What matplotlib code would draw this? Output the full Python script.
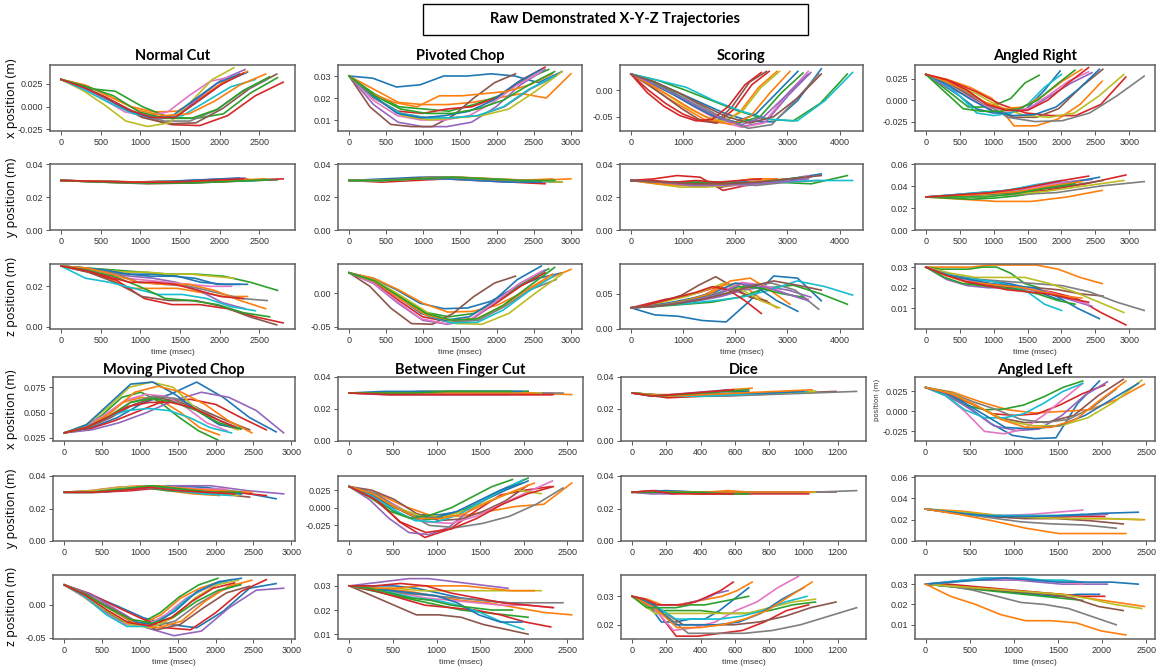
import numpy as np
import matplotlib
matplotlib.use('Agg')
import matplotlib.pyplot as plt
from matplotlib.patches import Rectangle

plt.rcParams['axes.unicode_minus'] = False

# ---------------- data ----------------
# each trajectory: end time (msec) + positions sampled evenly from 0 to that end time

normal_cut_T = [2350, 2350, 2730, 2800, 2320, 2720, 2150, 2600, 2180, 2450, 2250, 2580, 2630, 2300]
normal_cut_x = [
    [0.030, 0.020, 0.008, -0.006, -0.012, -0.010, 0.008, 0.027, 0.038],
    [0.030, 0.024, 0.012, 0.000, -0.006, -0.005, 0.010, 0.028, 0.039],
    [0.030, 0.020, 0.017, 0.000, -0.012, -0.013, -0.008, 0.015, 0.032],
    [0.030, 0.018, 0.004, -0.012, -0.020, -0.021, -0.010, 0.012, 0.027],
    [0.030, 0.021, 0.008, -0.006, -0.014, -0.012, 0.010, 0.030, 0.041],
    [0.030, 0.019, 0.004, -0.012, -0.019, -0.018, -0.002, 0.020, 0.036],
    [0.030, 0.020, 0.008, -0.006, -0.010, -0.006, 0.012, 0.028, 0.033],
    [0.030, 0.020, 0.006, -0.008, -0.016, -0.016, -0.004, 0.016, 0.030],
    [0.030, 0.018, 0.002, -0.016, -0.022, -0.018, 0.005, 0.030, 0.043],
    [0.030, 0.018, 0.004, -0.008, -0.012, -0.010, 0.006, 0.022, 0.030],
    [0.030, 0.022, 0.010, -0.004, -0.012, -0.010, 0.008, 0.026, 0.036],
    [0.030, 0.023, 0.010, -0.004, -0.010, -0.008, 0.006, 0.024, 0.036],
    [0.030, 0.022, 0.012, -0.006, -0.013, -0.013, -0.003, 0.018, 0.033],
    [0.030, 0.021, 0.010, -0.004, -0.012, -0.012, 0.006, 0.024, 0.037],
]
normal_cut_y = [
    [0.030, 0.0295, 0.029, 0.0295, 0.030, 0.031],
    [0.030, 0.0295, 0.029, 0.029, 0.030, 0.031],
    [0.030, 0.029, 0.0285, 0.0285, 0.0295, 0.0305],
    [0.030, 0.0295, 0.029, 0.029, 0.030, 0.031],
    [0.030, 0.0295, 0.029, 0.0295, 0.0305, 0.0315],
    [0.030, 0.029, 0.028, 0.0285, 0.0295, 0.0305],
    [0.030, 0.0295, 0.029, 0.0295, 0.030, 0.031],
    [0.030, 0.029, 0.0285, 0.029, 0.030, 0.0305],
    [0.030, 0.0295, 0.029, 0.0295, 0.030, 0.031],
    [0.030, 0.0295, 0.029, 0.029, 0.0295, 0.030],
    [0.030, 0.0295, 0.029, 0.0295, 0.0305, 0.0315],
    [0.030, 0.0295, 0.029, 0.029, 0.030, 0.031],
    [0.030, 0.029, 0.0285, 0.0285, 0.0295, 0.0305],
    [0.030, 0.0295, 0.029, 0.029, 0.030, 0.031],
]
normal_cut_z = [
    [0.030, 0.029, 0.027, 0.026, 0.026, 0.025, 0.022, 0.021, 0.021],
    [0.030, 0.028, 0.024, 0.019, 0.019, 0.019, 0.017, 0.015, 0.015],
    [0.030, 0.029, 0.028, 0.027, 0.026, 0.026, 0.025, 0.022, 0.018],
    [0.030, 0.027, 0.023, 0.014, 0.011, 0.011, 0.009, 0.005, 0.002],
    [0.030, 0.029, 0.027, 0.025, 0.024, 0.022, 0.018, 0.012, 0.009],
    [0.030, 0.027, 0.022, 0.015, 0.013, 0.013, 0.010, 0.005, 0.001],
    [0.030, 0.029, 0.027, 0.024, 0.023, 0.022, 0.021, 0.020, 0.020],
    [0.030, 0.029, 0.027, 0.022, 0.021, 0.020, 0.017, 0.014, 0.013],
    [0.030, 0.029, 0.028, 0.027, 0.027, 0.026, 0.026, 0.025, 0.024],
    [0.030, 0.024, 0.022, 0.019, 0.016, 0.016, 0.014, 0.010, 0.008],
    [0.030, 0.029, 0.028, 0.026, 0.025, 0.025, 0.024, 0.021, 0.021],
    [0.030, 0.029, 0.026, 0.022, 0.021, 0.021, 0.018, 0.013, 0.009],
    [0.030, 0.028, 0.025, 0.020, 0.014, 0.013, 0.011, 0.007, 0.005],
    [0.030, 0.028, 0.025, 0.022, 0.022, 0.021, 0.018, 0.015, 0.014],
]

pivoted_chop_T = [2880, 3000, 2700, 2650, 2650, 2250, 2600, 2800, 2880, 2780, 2600, 2750, 2780]
pivoted_chop_x = [
    [0.030, 0.029, 0.025, 0.026, 0.030, 0.030, 0.031, 0.030, 0.027, 0.032],
    [0.030, 0.024, 0.018, 0.017, 0.017, 0.018, 0.020, 0.022, 0.020, 0.031],
    [0.030, 0.022, 0.016, 0.015, 0.014, 0.017, 0.021, 0.028, 0.033],
    [0.030, 0.020, 0.014, 0.013, 0.015, 0.016, 0.020, 0.028, 0.034],
    [0.030, 0.017, 0.009, 0.007, 0.007, 0.009, 0.016, 0.026, 0.033],
    [0.030, 0.016, 0.008, 0.007, 0.007, 0.012, 0.020, 0.027, 0.031],
    [0.030, 0.019, 0.012, 0.010, 0.010, 0.012, 0.018, 0.026, 0.032],
    [0.030, 0.020, 0.013, 0.011, 0.011, 0.012, 0.016, 0.024, 0.030],
    [0.030, 0.020, 0.012, 0.010, 0.011, 0.012, 0.015, 0.023, 0.032],
    [0.030, 0.020, 0.013, 0.011, 0.011, 0.012, 0.016, 0.024, 0.030],
    [0.030, 0.021, 0.013, 0.011, 0.012, 0.014, 0.019, 0.027, 0.033],
    [0.030, 0.022, 0.018, 0.016, 0.021, 0.021, 0.022, 0.023, 0.026, 0.031],
    [0.030, 0.021, 0.015, 0.013, 0.013, 0.015, 0.019, 0.026, 0.032],
]
pivoted_chop_y = [
    [0.030, 0.031, 0.032, 0.032, 0.031, 0.030, 0.029],
    [0.030, 0.030, 0.031, 0.032, 0.031, 0.030, 0.031],
    [0.030, 0.030, 0.031, 0.032, 0.031, 0.030, 0.030],
    [0.030, 0.029, 0.030, 0.031, 0.030, 0.029, 0.028],
    [0.030, 0.030, 0.031, 0.032, 0.031, 0.029, 0.029],
    [0.030, 0.030, 0.031, 0.032, 0.031, 0.030, 0.030],
    [0.030, 0.030, 0.031, 0.031, 0.030, 0.029, 0.029],
    [0.030, 0.030, 0.031, 0.032, 0.031, 0.030, 0.029],
    [0.030, 0.030, 0.031, 0.032, 0.031, 0.030, 0.029],
    [0.030, 0.030, 0.031, 0.032, 0.031, 0.030, 0.030],
    [0.030, 0.030, 0.031, 0.031, 0.030, 0.029, 0.029],
    [0.030, 0.030, 0.031, 0.032, 0.031, 0.030, 0.031],
    [0.030, 0.030, 0.031, 0.032, 0.031, 0.030, 0.030],
]
pivoted_chop_z = [
    [0.030, 0.022, 0.005, -0.015, -0.023, -0.022, -0.012, 0.008, 0.022, 0.030],
    [0.030, 0.022, 0.005, -0.015, -0.028, -0.027, -0.018, 0.000, 0.020, 0.035],
    [0.030, 0.018, -0.005, -0.028, -0.035, -0.030, -0.010, 0.015, 0.036],
    [0.030, 0.016, -0.010, -0.035, -0.042, -0.038, -0.015, 0.010, 0.030],
    [0.030, 0.014, -0.015, -0.040, -0.046, -0.040, -0.012, 0.015, 0.034],
    [0.030, 0.010, -0.022, -0.045, -0.046, -0.030, -0.005, 0.015, 0.025],
    [0.030, 0.015, -0.012, -0.038, -0.045, -0.040, -0.015, 0.012, 0.032],
    [0.030, 0.017, -0.008, -0.032, -0.042, -0.040, -0.020, 0.005, 0.020],
    [0.030, 0.018, -0.005, -0.030, -0.045, -0.046, -0.030, 0.000, 0.028],
    [0.030, 0.017, -0.007, -0.033, -0.044, -0.043, -0.025, 0.003, 0.026],
    [0.030, 0.018, -0.005, -0.030, -0.040, -0.035, -0.012, 0.020, 0.040],
    [0.030, 0.017, -0.008, -0.032, -0.040, -0.038, -0.020, 0.005, 0.028],
    [0.030, 0.018, -0.006, -0.030, -0.040, -0.038, -0.018, 0.010, 0.038],
]

scoring_T = [3650, 2800, 4150, 2650, 3450, 2600, 3400, 3600, 2850, 4250, 3200, 3050, 3300, 2500, 3400, 3650]
scoring_x = [
    [0.030, 0.015, -0.005, -0.025, -0.045, -0.058, -0.060, -0.020, 0.040],
    [0.030, 0.010, -0.015, -0.035, -0.055, -0.062, -0.040, 0.005, 0.035],
    [0.030, 0.018, 0.000, -0.020, -0.040, -0.055, -0.058, -0.025, 0.030],
    [0.030, 0.000, -0.025, -0.045, -0.058, -0.062, -0.035, 0.010, 0.035],
    [0.030, 0.012, -0.010, -0.035, -0.055, -0.068, -0.060, -0.010, 0.033],
    [0.030, 0.010, -0.012, -0.035, -0.055, -0.062, -0.030, 0.015, 0.035],
    [0.030, 0.012, -0.010, -0.035, -0.058, -0.070, -0.062, -0.010, 0.035],
    [0.030, 0.015, -0.005, -0.030, -0.055, -0.072, -0.065, -0.020, 0.030],
    [0.030, 0.012, -0.010, -0.032, -0.050, -0.060, -0.040, 0.005, 0.035],
    [0.030, 0.018, 0.005, -0.020, -0.040, -0.055, -0.058, -0.020, 0.033],
    [0.030, 0.012, -0.008, -0.030, -0.050, -0.060, -0.045, -0.005, 0.035],
    [0.030, 0.010, -0.012, -0.035, -0.055, -0.065, -0.050, -0.005, 0.035],
    [0.030, 0.015, -0.005, -0.028, -0.050, -0.062, -0.050, -0.005, 0.032],
    [0.030, -0.005, -0.030, -0.048, -0.058, -0.055, -0.030, 0.010, 0.033],
    [0.030, 0.012, -0.008, -0.030, -0.052, -0.065, -0.050, -0.010, 0.030],
    [0.030, 0.015, -0.005, -0.028, -0.050, -0.062, -0.050, -0.015, 0.030],
]
scoring_y = [
    [0.030, 0.029, 0.028, 0.029, 0.029, 0.031, 0.034],
    [0.030, 0.029, 0.028, 0.028, 0.029, 0.031, 0.031],
    [0.030, 0.029, 0.028, 0.028, 0.029, 0.028, 0.033],
    [0.030, 0.031, 0.033, 0.032, 0.024, 0.027, 0.029],
    [0.030, 0.029, 0.027, 0.027, 0.028, 0.030, 0.032],
    [0.030, 0.029, 0.028, 0.028, 0.026, 0.028, 0.029],
    [0.030, 0.029, 0.027, 0.027, 0.027, 0.029, 0.033],
    [0.030, 0.029, 0.028, 0.028, 0.027, 0.029, 0.030],
    [0.030, 0.028, 0.026, 0.026, 0.027, 0.029, 0.030],
    [0.030, 0.029, 0.029, 0.029, 0.029, 0.030, 0.030],
    [0.030, 0.029, 0.028, 0.028, 0.029, 0.030, 0.031],
    [0.030, 0.028, 0.027, 0.027, 0.028, 0.030, 0.031],
    [0.030, 0.029, 0.029, 0.029, 0.028, 0.030, 0.032],
    [0.030, 0.030, 0.029, 0.030, 0.029, 0.030, 0.031],
    [0.030, 0.029, 0.027, 0.027, 0.028, 0.029, 0.031],
    [0.030, 0.029, 0.028, 0.028, 0.029, 0.031, 0.033],
]
scoring_z = [
    [0.030, 0.020, 0.018, 0.012, 0.010, 0.040, 0.075, 0.072, 0.040],
    [0.030, 0.033, 0.036, 0.040, 0.048, 0.062, 0.065, 0.045, 0.030],
    [0.030, 0.032, 0.035, 0.038, 0.045, 0.058, 0.062, 0.050, 0.035],
    [0.030, 0.036, 0.042, 0.046, 0.052, 0.060, 0.055, 0.045, 0.037],
    [0.030, 0.032, 0.036, 0.040, 0.046, 0.055, 0.060, 0.055, 0.045],
    [0.030, 0.034, 0.040, 0.048, 0.062, 0.074, 0.060, 0.045, 0.040],
    [0.030, 0.033, 0.038, 0.044, 0.052, 0.066, 0.062, 0.050, 0.042],
    [0.030, 0.032, 0.036, 0.042, 0.050, 0.062, 0.065, 0.055, 0.028],
    [0.030, 0.034, 0.040, 0.046, 0.055, 0.065, 0.055, 0.040, 0.030],
    [0.030, 0.033, 0.036, 0.040, 0.045, 0.055, 0.068, 0.060, 0.048],
    [0.030, 0.033, 0.038, 0.044, 0.052, 0.065, 0.060, 0.040, 0.025],
    [0.030, 0.032, 0.036, 0.042, 0.050, 0.068, 0.072, 0.055, 0.035],
    [0.030, 0.032, 0.036, 0.042, 0.050, 0.060, 0.058, 0.050, 0.045],
    [0.030, 0.034, 0.040, 0.046, 0.052, 0.060, 0.055, 0.040, 0.022],
    [0.030, 0.032, 0.036, 0.042, 0.050, 0.064, 0.060, 0.050, 0.040],
    [0.030, 0.032, 0.036, 0.042, 0.050, 0.060, 0.068, 0.062, 0.055],
]

angled_right_T = [1980, 2600, 1670, 2950, 2450, 2610, 2400, 3220, 2920, 2000, 2560, 2300, 2200, 2400]
angled_right_x = [
    [0.030, 0.018, 0.005, -0.010, -0.015, -0.015, -0.010, 0.010, 0.034],
    [0.030, 0.024, 0.015, 0.002, -0.030, -0.030, -0.022, -0.005, 0.022],
    [0.030, 0.018, 0.005, -0.008, -0.008, -0.005, 0.002, 0.020, 0.029],
    [0.030, 0.022, 0.010, -0.005, -0.015, -0.018, -0.018, -0.005, 0.027],
    [0.030, 0.015, 0.005, -0.008, -0.012, -0.010, 0.005, 0.020, 0.032],
    [0.030, 0.020, 0.005, -0.012, -0.020, -0.020, -0.010, 0.015, 0.036],
    [0.030, 0.018, 0.005, -0.008, -0.012, -0.010, 0.005, 0.022, 0.033],
    [0.030, 0.018, 0.000, -0.020, -0.025, -0.024, -0.015, 0.005, 0.028],
    [0.030, 0.020, 0.008, -0.008, -0.018, -0.020, -0.015, 0.005, 0.030],
    [0.030, 0.020, 0.005, -0.015, -0.018, -0.015, -0.005, 0.015, 0.030],
    [0.030, 0.018, 0.002, -0.012, -0.018, -0.017, -0.008, 0.012, 0.036],
    [0.030, 0.022, 0.012, -0.002, -0.010, -0.008, 0.005, 0.022, 0.036],
    [0.030, 0.010, -0.010, -0.013, -0.013, -0.010, 0.000, 0.018, 0.035],
    [0.030, 0.024, 0.012, -0.005, -0.012, -0.012, 0.000, 0.020, 0.038],
]
angled_right_y = [
    [0.030, 0.032, 0.034, 0.036, 0.040, 0.044],
    [0.030, 0.028, 0.026, 0.026, 0.030, 0.036],
    [0.030, 0.029, 0.028, 0.029, 0.031, 0.034],
    [0.030, 0.031, 0.033, 0.036, 0.042, 0.050],
    [0.030, 0.032, 0.034, 0.038, 0.043, 0.046],
    [0.030, 0.031, 0.033, 0.036, 0.040, 0.045],
    [0.030, 0.032, 0.034, 0.037, 0.042, 0.046],
    [0.030, 0.031, 0.032, 0.034, 0.040, 0.044],
    [0.030, 0.031, 0.032, 0.035, 0.040, 0.045],
    [0.030, 0.032, 0.034, 0.036, 0.041, 0.045],
    [0.030, 0.031, 0.033, 0.036, 0.042, 0.048],
    [0.030, 0.031, 0.033, 0.035, 0.040, 0.044],
    [0.030, 0.030, 0.030, 0.033, 0.038, 0.042],
    [0.030, 0.032, 0.034, 0.038, 0.044, 0.049],
]
angled_right_z = [
    [0.030, 0.027, 0.025, 0.024, 0.023, 0.022, 0.020, 0.017, 0.014],
    [0.030, 0.030, 0.030, 0.031, 0.031, 0.031, 0.029, 0.025, 0.022],
    [0.030, 0.029, 0.029, 0.029, 0.030, 0.030, 0.027, 0.022, 0.020],
    [0.030, 0.026, 0.023, 0.021, 0.020, 0.018, 0.015, 0.008, 0.002],
    [0.030, 0.024, 0.021, 0.020, 0.020, 0.019, 0.017, 0.014, 0.011],
    [0.030, 0.026, 0.022, 0.021, 0.020, 0.020, 0.019, 0.017, 0.016],
    [0.030, 0.026, 0.024, 0.022, 0.021, 0.020, 0.018, 0.015, 0.012],
    [0.030, 0.026, 0.024, 0.023, 0.022, 0.021, 0.018, 0.013, 0.009],
    [0.030, 0.027, 0.025, 0.025, 0.025, 0.022, 0.018, 0.013, 0.008],
    [0.030, 0.027, 0.025, 0.024, 0.023, 0.021, 0.018, 0.012, 0.009],
    [0.030, 0.026, 0.024, 0.022, 0.021, 0.020, 0.016, 0.010, 0.005],
    [0.030, 0.026, 0.023, 0.022, 0.021, 0.020, 0.018, 0.016, 0.015],
    [0.030, 0.025, 0.022, 0.021, 0.020, 0.019, 0.017, 0.014, 0.012],
    [0.030, 0.026, 0.023, 0.021, 0.019, 0.018, 0.017, 0.015, 0.013],
]

moving_chop_T = [2800, 2050, 2030, 2670, 2900, 2450, 2150, 2340, 2300, 2210, 2340, 2480, 2330, 2250]
moving_chop_x = [
    [0.030, 0.035, 0.045, 0.060, 0.068, 0.080, 0.065, 0.045, 0.031],
    [0.030, 0.036, 0.045, 0.060, 0.065, 0.062, 0.050, 0.035, 0.028],
    [0.030, 0.035, 0.048, 0.065, 0.070, 0.060, 0.045, 0.032, 0.023],
    [0.030, 0.034, 0.042, 0.052, 0.062, 0.063, 0.058, 0.045, 0.033],
    [0.030, 0.033, 0.040, 0.050, 0.062, 0.070, 0.065, 0.052, 0.030],
    [0.030, 0.035, 0.045, 0.058, 0.065, 0.060, 0.052, 0.042, 0.033],
    [0.030, 0.036, 0.048, 0.062, 0.068, 0.066, 0.055, 0.040, 0.032],
    [0.030, 0.035, 0.045, 0.060, 0.066, 0.064, 0.055, 0.042, 0.034],
    [0.030, 0.038, 0.055, 0.075, 0.080, 0.075, 0.055, 0.040, 0.033],
    [0.030, 0.036, 0.045, 0.052, 0.054, 0.052, 0.045, 0.035, 0.030],
    [0.030, 0.038, 0.058, 0.078, 0.080, 0.068, 0.052, 0.038, 0.034],
    [0.030, 0.036, 0.050, 0.070, 0.076, 0.070, 0.058, 0.042, 0.030],
    [0.030, 0.035, 0.046, 0.060, 0.064, 0.060, 0.052, 0.040, 0.034],
    [0.030, 0.035, 0.045, 0.056, 0.060, 0.060, 0.055, 0.045, 0.036],
]
moving_chop_y = [
    [0.030, 0.030, 0.032, 0.034, 0.033, 0.030, 0.026],
    [0.030, 0.031, 0.033, 0.034, 0.031, 0.029, 0.028],
    [0.030, 0.030, 0.032, 0.033, 0.031, 0.030, 0.029],
    [0.030, 0.030, 0.031, 0.033, 0.032, 0.030, 0.028],
    [0.030, 0.030, 0.032, 0.034, 0.034, 0.031, 0.029],
    [0.030, 0.030, 0.032, 0.033, 0.031, 0.029, 0.027],
    [0.030, 0.031, 0.033, 0.034, 0.033, 0.032, 0.032],
    [0.030, 0.030, 0.032, 0.033, 0.031, 0.030, 0.029],
    [0.030, 0.031, 0.033, 0.034, 0.032, 0.030, 0.028],
    [0.030, 0.030, 0.032, 0.033, 0.031, 0.029, 0.028],
    [0.030, 0.030, 0.032, 0.034, 0.032, 0.030, 0.029],
    [0.030, 0.030, 0.032, 0.034, 0.032, 0.031, 0.030],
    [0.030, 0.030, 0.032, 0.034, 0.032, 0.030, 0.030],
    [0.030, 0.030, 0.031, 0.033, 0.031, 0.030, 0.029],
]
moving_chop_z = [
    [0.030, 0.015, -0.002, -0.020, -0.030, -0.035, -0.010, 0.025, 0.032],
    [0.030, 0.012, -0.010, -0.028, -0.030, -0.015, 0.010, 0.025, 0.035],
    [0.030, 0.013, -0.008, -0.025, -0.028, -0.012, 0.012, 0.030, 0.040],
    [0.030, 0.017, -0.002, -0.020, -0.035, -0.038, -0.012, 0.020, 0.038],
    [0.030, 0.015, -0.010, -0.035, -0.047, -0.040, -0.005, 0.022, 0.025],
    [0.030, 0.015, -0.005, -0.025, -0.038, -0.030, -0.005, 0.018, 0.028],
    [0.030, 0.012, -0.012, -0.030, -0.032, -0.015, 0.010, 0.025, 0.035],
    [0.030, 0.015, -0.005, -0.025, -0.033, -0.025, 0.000, 0.020, 0.032],
    [0.030, 0.013, -0.010, -0.030, -0.035, -0.020, 0.010, 0.030, 0.037],
    [0.030, 0.012, -0.015, -0.033, -0.033, -0.015, 0.012, 0.030, 0.038],
    [0.030, 0.015, -0.005, -0.025, -0.030, -0.010, 0.020, 0.035, 0.040],
    [0.030, 0.014, -0.008, -0.028, -0.035, -0.025, 0.005, 0.028, 0.037],
    [0.030, 0.015, -0.005, -0.022, -0.028, -0.018, 0.005, 0.022, 0.030],
    [0.030, 0.014, -0.008, -0.027, -0.032, -0.020, 0.005, 0.025, 0.033],
]

finger_cut_T = [2050, 2550, 2050, 2310, 1820, 2050, 2330, 2450, 2200, 2000, 1980, 2120, 1870, 2340]
finger_cut_x = [
    [0.030, 0.030, 0.031, 0.031, 0.031, 0.031],
    [0.030, 0.030, 0.030, 0.030, 0.030, 0.029],
    [0.030, 0.030, 0.030, 0.030, 0.030, 0.031],
    [0.030, 0.029, 0.029, 0.029, 0.029, 0.029],
    [0.030, 0.029, 0.029, 0.029, 0.029, 0.029],
    [0.030, 0.030, 0.030, 0.030, 0.030, 0.030],
    [0.030, 0.030, 0.030, 0.030, 0.030, 0.030],
    [0.030, 0.030, 0.030, 0.030, 0.030, 0.030],
    [0.030, 0.030, 0.031, 0.031, 0.030, 0.030],
    [0.030, 0.030, 0.030, 0.030, 0.030, 0.030],
    [0.030, 0.031, 0.031, 0.031, 0.031, 0.031],
    [0.030, 0.030, 0.030, 0.030, 0.030, 0.030],
    [0.030, 0.030, 0.030, 0.031, 0.031, 0.031],
    [0.030, 0.029, 0.029, 0.029, 0.029, 0.029],
]
finger_cut_y = [
    [0.030, 0.018, 0.000, -0.010, -0.010, -0.005, 0.010, 0.025, 0.038],
    [0.030, 0.020, 0.002, -0.012, -0.012, -0.005, 0.002, 0.005, 0.035],
    [0.030, 0.015, -0.005, -0.018, -0.015, -0.005, 0.010, 0.028, 0.042],
    [0.030, 0.015, -0.020, -0.042, -0.030, -0.005, 0.018, 0.025, 0.030],
    [0.030, 0.012, -0.015, -0.035, -0.038, -0.028, -0.005, 0.015, 0.030],
    [0.030, 0.025, 0.012, -0.008, -0.018, -0.016, -0.005, 0.010, 0.032],
    [0.030, 0.020, 0.000, -0.020, -0.022, -0.012, 0.005, 0.022, 0.038],
    [0.030, 0.020, -0.005, -0.025, -0.028, -0.022, -0.012, 0.005, 0.028],
    [0.030, 0.018, 0.000, -0.012, -0.012, -0.002, 0.012, 0.025, 0.020],
    [0.030, 0.018, -0.002, -0.018, -0.020, -0.010, 0.008, 0.025, 0.040],
    [0.030, 0.020, 0.002, -0.012, -0.014, -0.005, 0.010, 0.025, 0.035],
    [0.030, 0.020, 0.000, -0.015, -0.015, -0.008, 0.008, 0.022, 0.035],
    [0.030, 0.015, -0.005, -0.015, -0.010, 0.000, 0.015, 0.030, 0.040],
    [0.030, 0.012, -0.020, -0.035, -0.030, -0.015, 0.005, 0.020, 0.030],
]
finger_cut_z = [
    [0.030, 0.030, 0.030, 0.029, 0.027, 0.025, 0.024, 0.023, 0.022],
    [0.030, 0.029, 0.028, 0.026, 0.024, 0.023, 0.021, 0.019, 0.018],
    [0.030, 0.028, 0.026, 0.024, 0.022, 0.020, 0.019, 0.018, 0.017],
    [0.030, 0.028, 0.025, 0.022, 0.021, 0.020, 0.018, 0.015, 0.013],
    [0.030, 0.031, 0.032, 0.033, 0.033, 0.032, 0.031, 0.030, 0.029],
    [0.030, 0.026, 0.022, 0.018, 0.018, 0.017, 0.014, 0.012, 0.010],
    [0.030, 0.029, 0.027, 0.025, 0.024, 0.023, 0.022, 0.022, 0.021],
    [0.030, 0.029, 0.027, 0.026, 0.025, 0.024, 0.023, 0.023, 0.023],
    [0.030, 0.029, 0.029, 0.028, 0.028, 0.028, 0.028, 0.028, 0.028],
    [0.030, 0.029, 0.027, 0.025, 0.024, 0.022, 0.019, 0.015, 0.012],
    [0.030, 0.029, 0.028, 0.027, 0.026, 0.023, 0.018, 0.015, 0.015],
    [0.030, 0.029, 0.029, 0.030, 0.030, 0.030, 0.029, 0.028, 0.028],
    [0.030, 0.029, 0.027, 0.025, 0.024, 0.022, 0.021, 0.020, 0.020],
    [0.030, 0.030, 0.031, 0.030, 0.027, 0.025, 0.023, 0.022, 0.021],
]

dice_T = [680, 700, 1070, 1030, 560, 1190, 970, 1310, 1070, 1020, 1000, 1050, 680, 590]
dice_x = [
    [0.030, 0.028, 0.029, 0.030, 0.031, 0.031],
    [0.030, 0.029, 0.029, 0.030, 0.032, 0.033],
    [0.030, 0.028, 0.028, 0.029, 0.030, 0.031],
    [0.030, 0.027, 0.028, 0.029, 0.030, 0.031],
    [0.030, 0.028, 0.029, 0.030, 0.031, 0.032],
    [0.030, 0.028, 0.028, 0.029, 0.030, 0.031],
    [0.030, 0.028, 0.029, 0.029, 0.030, 0.031],
    [0.030, 0.028, 0.028, 0.029, 0.030, 0.031],
    [0.030, 0.028, 0.029, 0.030, 0.030, 0.031],
    [0.030, 0.028, 0.028, 0.029, 0.030, 0.031],
    [0.030, 0.028, 0.029, 0.030, 0.030, 0.031],
    [0.030, 0.028, 0.029, 0.030, 0.031, 0.032],
    [0.030, 0.028, 0.029, 0.030, 0.031, 0.032],
    [0.030, 0.028, 0.029, 0.030, 0.031, 0.032],
]
dice_y = [
    [0.030, 0.031, 0.030, 0.030, 0.030, 0.030],
    [0.030, 0.031, 0.030, 0.030, 0.031, 0.030],
    [0.030, 0.030, 0.029, 0.030, 0.030, 0.030],
    [0.030, 0.030, 0.029, 0.029, 0.029, 0.029],
    [0.030, 0.029, 0.029, 0.030, 0.030, 0.030],
    [0.030, 0.030, 0.030, 0.030, 0.030, 0.030],
    [0.030, 0.031, 0.030, 0.030, 0.030, 0.030],
    [0.030, 0.030, 0.030, 0.030, 0.030, 0.031],
    [0.030, 0.030, 0.030, 0.030, 0.030, 0.030],
    [0.030, 0.030, 0.030, 0.030, 0.030, 0.030],
    [0.030, 0.031, 0.030, 0.030, 0.030, 0.030],
    [0.030, 0.030, 0.030, 0.030, 0.030, 0.030],
    [0.030, 0.030, 0.030, 0.030, 0.029, 0.029],
    [0.030, 0.031, 0.029, 0.029, 0.029, 0.029],
]
dice_z = [
    [0.030, 0.028, 0.021, 0.021, 0.022, 0.022, 0.025, 0.029, 0.033],
    [0.030, 0.029, 0.027, 0.027, 0.028, 0.029, 0.030, 0.032, 0.035],
    [0.030, 0.025, 0.025, 0.025, 0.024, 0.024, 0.025, 0.027, 0.028],
    [0.030, 0.026, 0.016, 0.016, 0.017, 0.018, 0.021, 0.025, 0.027],
    [0.030, 0.029, 0.027, 0.027, 0.027, 0.028, 0.029, 0.031, 0.032],
    [0.030, 0.026, 0.020, 0.020, 0.020, 0.021, 0.023, 0.026, 0.028],
    [0.030, 0.026, 0.018, 0.019, 0.021, 0.025, 0.028, 0.033, 0.037],
    [0.030, 0.025, 0.017, 0.017, 0.017, 0.018, 0.020, 0.023, 0.026],
    [0.030, 0.024, 0.024, 0.024, 0.024, 0.024, 0.026, 0.028, 0.029],
    [0.030, 0.027, 0.022, 0.022, 0.022, 0.023, 0.025, 0.028, 0.030],
    [0.030, 0.027, 0.020, 0.020, 0.020, 0.021, 0.024, 0.029, 0.033],
    [0.030, 0.026, 0.019, 0.019, 0.020, 0.022, 0.025, 0.030, 0.035],
    [0.030, 0.026, 0.026, 0.026, 0.027, 0.027, 0.028, 0.029, 0.030],
    [0.030, 0.029, 0.027, 0.027, 0.027, 0.028, 0.030, 0.032, 0.035],
]

angled_left_T = [1970, 2480, 1780, 2030, 2060, 2240, 1780, 2160, 2450, 1780, 2410, 2270]
angled_left_x = [
    [0.030, 0.022, 0.005, -0.015, -0.030, -0.034, -0.033, 0.010, 0.038],
    [0.030, 0.024, 0.012, 0.002, -0.002, 0.000, 0.002, 0.015, 0.034],
    [0.030, 0.020, 0.008, 0.002, 0.003, 0.008, 0.018, 0.030, 0.038],
    [0.030, 0.022, 0.010, -0.003, -0.005, -0.003, 0.008, 0.022, 0.033],
    [0.030, 0.020, 0.002, -0.018, -0.024, -0.022, -0.005, 0.020, 0.037],
    [0.030, 0.022, 0.008, -0.008, -0.014, -0.013, -0.005, 0.020, 0.040],
    [0.030, 0.020, 0.000, -0.025, -0.028, -0.022, -0.005, 0.015, 0.035],
    [0.030, 0.024, 0.012, 0.002, -0.010, -0.014, -0.010, 0.005, 0.028],
    [0.030, 0.022, 0.005, -0.012, -0.018, -0.018, -0.008, 0.012, 0.039],
    [0.030, 0.020, 0.002, -0.008, -0.008, -0.003, 0.010, 0.025, 0.035],
    [0.030, 0.020, 0.000, -0.020, -0.022, -0.018, -0.005, 0.015, 0.035],
    [0.030, 0.022, 0.008, -0.010, -0.020, -0.020, -0.010, 0.015, 0.038],
]
angled_left_y = [
    [0.030, 0.026, 0.024, 0.023, 0.023, 0.024, 0.025],
    [0.030, 0.028, 0.024, 0.022, 0.021, 0.021, 0.020],
    [0.030, 0.027, 0.024, 0.023, 0.023, 0.023, 0.024],
    [0.030, 0.026, 0.023, 0.022, 0.022, 0.023, 0.023],
    [0.030, 0.026, 0.023, 0.023, 0.023, 0.024, 0.025],
    [0.030, 0.026, 0.023, 0.021, 0.021, 0.019, 0.016],
    [0.030, 0.027, 0.024, 0.024, 0.025, 0.027, 0.029],
    [0.030, 0.026, 0.022, 0.018, 0.016, 0.015, 0.012],
    [0.030, 0.027, 0.024, 0.022, 0.021, 0.021, 0.020],
    [0.030, 0.027, 0.024, 0.024, 0.024, 0.024, 0.025],
    [0.030, 0.026, 0.023, 0.023, 0.024, 0.026, 0.027],
    [0.030, 0.025, 0.019, 0.012, 0.007, 0.007, 0.007],
]
angled_left_z = [
    [0.030, 0.029, 0.028, 0.027, 0.026, 0.025, 0.024, 0.025, 0.025],
    [0.030, 0.029, 0.028, 0.027, 0.026, 0.025, 0.023, 0.021, 0.019],
    [0.030, 0.029, 0.028, 0.027, 0.026, 0.025, 0.024, 0.023, 0.022],
    [0.030, 0.030, 0.029, 0.028, 0.027, 0.026, 0.025, 0.024, 0.024],
    [0.030, 0.031, 0.032, 0.032, 0.032, 0.031, 0.030, 0.030, 0.030],
    [0.030, 0.029, 0.028, 0.027, 0.026, 0.025, 0.023, 0.019, 0.017],
    [0.030, 0.031, 0.032, 0.033, 0.033, 0.032, 0.032, 0.031, 0.030],
    [0.030, 0.029, 0.027, 0.024, 0.021, 0.020, 0.018, 0.014, 0.010],
    [0.030, 0.029, 0.028, 0.027, 0.026, 0.025, 0.023, 0.020, 0.018],
    [0.030, 0.031, 0.032, 0.033, 0.033, 0.033, 0.032, 0.032, 0.031],
    [0.030, 0.031, 0.032, 0.033, 0.032, 0.031, 0.031, 0.031, 0.030],
    [0.030, 0.024, 0.020, 0.015, 0.012, 0.012, 0.011, 0.007, 0.005],
]

# ---------------- layout ----------------
W, H = 1158, 671
fig = plt.figure(figsize=(W / 100, H / 100), dpi=100)

TICK_FONT = ['Liberation Sans', 'DejaVu Sans']
TITLE_FONT = ['Lato', 'DejaVu Sans']


def add_ax(left, top, right, bottom):
    return fig.add_axes([left / W, 1 - bottom / H, (right - left) / W, (bottom - top) / H])


def draw_panel(ax, T, rows, xlim, xticks, ylim, yticks):
    for end, vals in zip(T, rows):
        t = np.linspace(0, end, len(vals))
        ax.plot(t, vals, lw=1.2, solid_joinstyle='round')
    ax.set_xlim(xlim)
    ax.set_xticks(xticks)
    ax.set_ylim(ylim)
    ax.set_yticks(yticks)
    for s in ax.spines.values():
        s.set_color('#606060')
        s.set_linewidth(1.1)
    ax.tick_params(length=3, width=0.7, color='#555555', labelsize=6.5, pad=2,
                   labelcolor='#333333')
    for lab in ax.get_xticklabels() + ax.get_yticklabels():
        lab.set_family(TICK_FONT)


tasks = [
    # name, T, rows, column box, half, xlim, xticks, ylims, yticks
    ('Normal Cut', normal_cut_T, (normal_cut_x, normal_cut_y, normal_cut_z),
     (50, 295), 0, (-140, 2950), range(0, 2501, 500),
     [(-0.027, 0.046), (0.0, 0.04), (-0.001, 0.031)],
     [[-0.025, 0.0, 0.025], [0.0, 0.02, 0.04], [0.0, 0.02]]),
    ('Pivoted Chop', pivoted_chop_T, (pivoted_chop_x, pivoted_chop_y, pivoted_chop_z),
     (338, 582), 0, (-150, 3150), range(0, 3001, 500),
     [(0.005, 0.035), (0.0, 0.04), (-0.053, 0.043)],
     [[0.01, 0.02, 0.03], [0.0, 0.02, 0.04], [-0.05, 0.0]]),
    ('Scoring', scoring_T, (scoring_x, scoring_y, scoring_z),
     (620, 863), 0, (-210, 4450), range(0, 4001, 1000),
     [(-0.077, 0.047), (0.0, 0.04), (0.0, 0.092)],
     [[-0.05, 0.0], [0.0, 0.02, 0.04], [0.0, 0.05]]),
    ('Angled Right', angled_right_T, (angled_right_x, angled_right_y, angled_right_z),
     (915, 1155), 0, (-160, 3380), range(0, 3001, 500),
     [(-0.036, 0.041), (0.0, 0.06), (0.0, 0.0315)],
     [[-0.025, 0.0, 0.025], [0.0, 0.02, 0.04, 0.06], [0.01, 0.02, 0.03]]),
    ('Moving Pivoted Chop', moving_chop_T, (moving_chop_x, moving_chop_y, moving_chop_z),
     (53, 295), 1, (-150, 3050), range(0, 3001, 500),
     [(0.022, 0.085), (0.0, 0.04), (-0.052, 0.045)],
     [[0.025, 0.05, 0.075], [0.0, 0.02, 0.04], [-0.05, 0.0]]),
    ('Between Finger Cut', finger_cut_T, (finger_cut_x, finger_cut_y, finger_cut_z),
     (338, 583), 1, (-130, 2680), range(0, 2501, 500),
     [(0.0, 0.04), (-0.047, 0.045), (0.008, 0.0345)],
     [[0.0, 0.02, 0.04], [-0.025, 0.0, 0.025], [0.01, 0.02, 0.03]]),
    ('Dice', dice_T, (dice_x, dice_y, dice_z),
     (621, 866), 1, (-65, 1365), range(0, 1201, 200),
     [(0.0, 0.04), (0.0, 0.04), (0.015, 0.0375)],
     [[0.0, 0.02, 0.04], [0.0, 0.02, 0.04], [0.02, 0.03]]),
    ('Angled Left', angled_left_T, (angled_left_x, angled_left_y, angled_left_z),
     (915, 1155), 1, (-120, 2600), range(0, 2501, 500),
     [(-0.037, 0.043), (0.0, 0.061), (0.003, 0.0345)],
     [[-0.025, 0.0, 0.025], [0.0, 0.02, 0.04, 0.06], [0.01, 0.02, 0.03]]),
]

row_boxes = [
    [(65, 131), (164, 230), (264, 329)],
    [(377, 441), (476, 541), (575, 639)],
]
title_y = [56, 370]
xlabel_y = [352, 663]
row_names = ['x position (m)', 'y position (m)', 'z position (m)']

for name, T, rows, (cl, cr), half, xlim, xticks, ylims, yticks in tasks:
    for r in range(3):
        top, bot = row_boxes[half][r]
        ax = add_ax(cl, top, cr, bot)
        draw_panel(ax, T, rows[r], xlim, list(xticks), ylims[r], yticks[r])
        if cl < 100:
            fig.text(12 / W, 1 - (top + bot) / 2 / H, row_names[r], rotation=90,
                     ha='center', va='center', fontsize=9, family=['Open Sans', 'DejaVu Sans'])
    fig.text((cl + cr) / 2 / W, 1 - title_y[half] / H, name, ha='center', va='center',
             fontsize=10.5, fontweight='bold', family=TITLE_FONT)
    fig.text((cl + cr) / 2 / W, 1 - xlabel_y[half] / H, 'time (msec)', ha='center',
             va='center', fontsize=6, family=TICK_FONT, color='#333333')

# tiny axis label next to the Angled Left panel
fig.text(877 / W, 1 - 400 / H, 'position (m)', rotation=90, ha='center', va='center',
         fontsize=5, color='#333333')

# boxed figure title
fig.patches.append(Rectangle((423 / W, 1 - 35 / H), (808 - 423) / W, 31 / H,
                             transform=fig.transFigure, fill=False, edgecolor='black', lw=1.0))
fig.text(615 / W, 1 - 19 / H, 'Raw Demonstrated X-Y-Z Trajectories', ha='center', va='center',
         fontsize=10.5, fontweight='bold', family=TITLE_FONT)

fig.savefig('out.png', dpi=100)
